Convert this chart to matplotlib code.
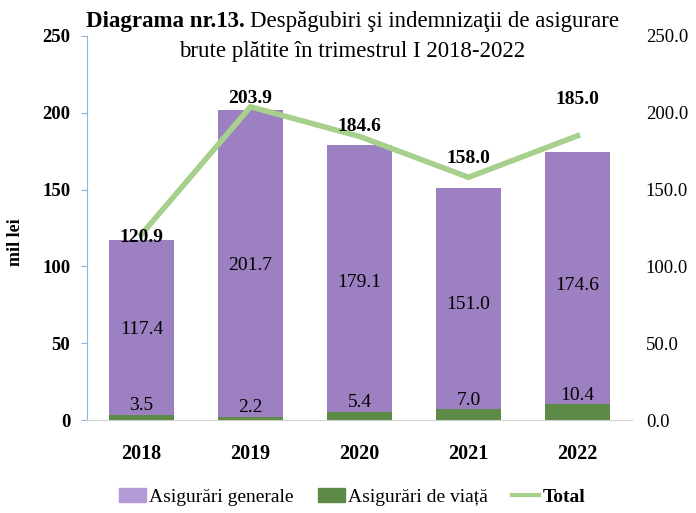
import matplotlib
matplotlib.use("Agg")
import matplotlib.pyplot as plt
from matplotlib.patches import Patch
from matplotlib.lines import Line2D

years = ["2018", "2019", "2020", "2021", "2022"]
general = [117.4, 201.7, 179.1, 151.0, 174.6]
life = [3.5, 2.2, 5.4, 7.0, 10.4]
total = [120.9, 203.9, 184.6, 158.0, 185.0]
left_ticks = [0, 50, 100, 150, 200, 250]
right_ticks = [0.0, 50.0, 100.0, 150.0, 200.0, 250.0]

plt.rcParams['font.family'] = ['Liberation Serif', 'DejaVu Serif']

PURPLE = '#9d80c1'
GREEN = '#5e8a48'
LINEGREEN = '#a8d08d'

fig = plt.figure(figsize=(6.96, 5.13), dpi=100)
ax = fig.add_axes([0.125, 0.181, 0.783, 0.749])
x = list(range(len(years)))

ax.bar(x, general, width=0.59, color=PURPLE, zorder=2)
ax.bar(x, life, width=0.59, color=GREEN, zorder=3)
ax.plot(x, total, color=LINEGREEN, lw=4, zorder=4, solid_joinstyle='miter')

ax.set_xlim(-0.5, len(years) - 0.5)
ax.set_ylim(0, 250)
ax.set_yticks(left_ticks)
ax.set_yticklabels([str(v) for v in left_ticks], fontsize=13.5, fontweight='bold')
ax.set_xticks(x)
ax.set_xticklabels(years, fontsize=14.5, fontweight='bold')
ax.tick_params(axis='x', length=0, pad=17)
ax.tick_params(axis='y', length=4, direction='out', color='#8fb4dd', pad=8)
for s in ['top', 'right']:
    ax.spines[s].set_visible(False)
ax.spines['left'].set_color('#8fb4dd')
ax.spines['bottom'].set_color('#d0d0d0')
fig.text(15 / 696, 1 - 242 / 513, 'mil lei', rotation=90, ha='center', va='center',
         fontsize=13, fontweight='bold')

ax2 = ax.twinx()
ax2.set_ylim(0, 250)
ax2.set_yticks(right_ticks)
ax2.set_yticklabels([f"{v:.1f}" for v in right_ticks], fontsize=13.5)
ax2.tick_params(axis='y', length=0, pad=10)
for s in ['top', 'right', 'left', 'bottom']:
    ax2.spines[s].set_visible(False)

for i in x:
    ax.text(i, general[i] / 2, f"{general[i]:.1f}", ha='center', va='center', fontsize=14, zorder=5)
    ax.annotate(f"{life[i]:.1f}", (i, life[i]), xytext=(0, 6.5), textcoords='offset points',
                ha='center', va='center', fontsize=14, zorder=5)

total_offsets = [-2, 6, 7.5, 13.5, 26]
for i in x:
    ax.annotate(f"{total[i]:.1f}", (i, total[i]), xytext=(0, total_offsets[i]), textcoords='offset points',
                ha='center', va='center', fontsize=14, fontweight='bold', zorder=6)

fig.text(86 / 696, 1 - 22 / 513, "Diagrama nr.13.", ha='left', va='center', fontsize=16.5, fontweight='bold')
fig.text(250 / 696, 1 - 22 / 513, "Despăgubiri şi indemnizaţii de asigurare", ha='left', va='center', fontsize=16.5)
fig.text(352 / 696, 1 - 52 / 513, "brute plătite în trimestrul I 2018-2022", ha='center', va='center', fontsize=16.5)

handles = [Patch(color='#b29ad6'), Patch(color=GREEN), Line2D([0], [0], color=LINEGREEN, lw=3)]
labels = ["Asigurări generale", "Asigurări de viață", "Total"]
leg = fig.legend(handles, labels, loc='center', bbox_to_anchor=(352 / 696, 1 - 497 / 513), ncol=3, frameon=False,
                 fontsize=14, handlelength=1.4, handletextpad=0.15, columnspacing=1.25)
leg.get_texts()[2].set_fontweight('bold')

fig.savefig('out.png', dpi=100)
